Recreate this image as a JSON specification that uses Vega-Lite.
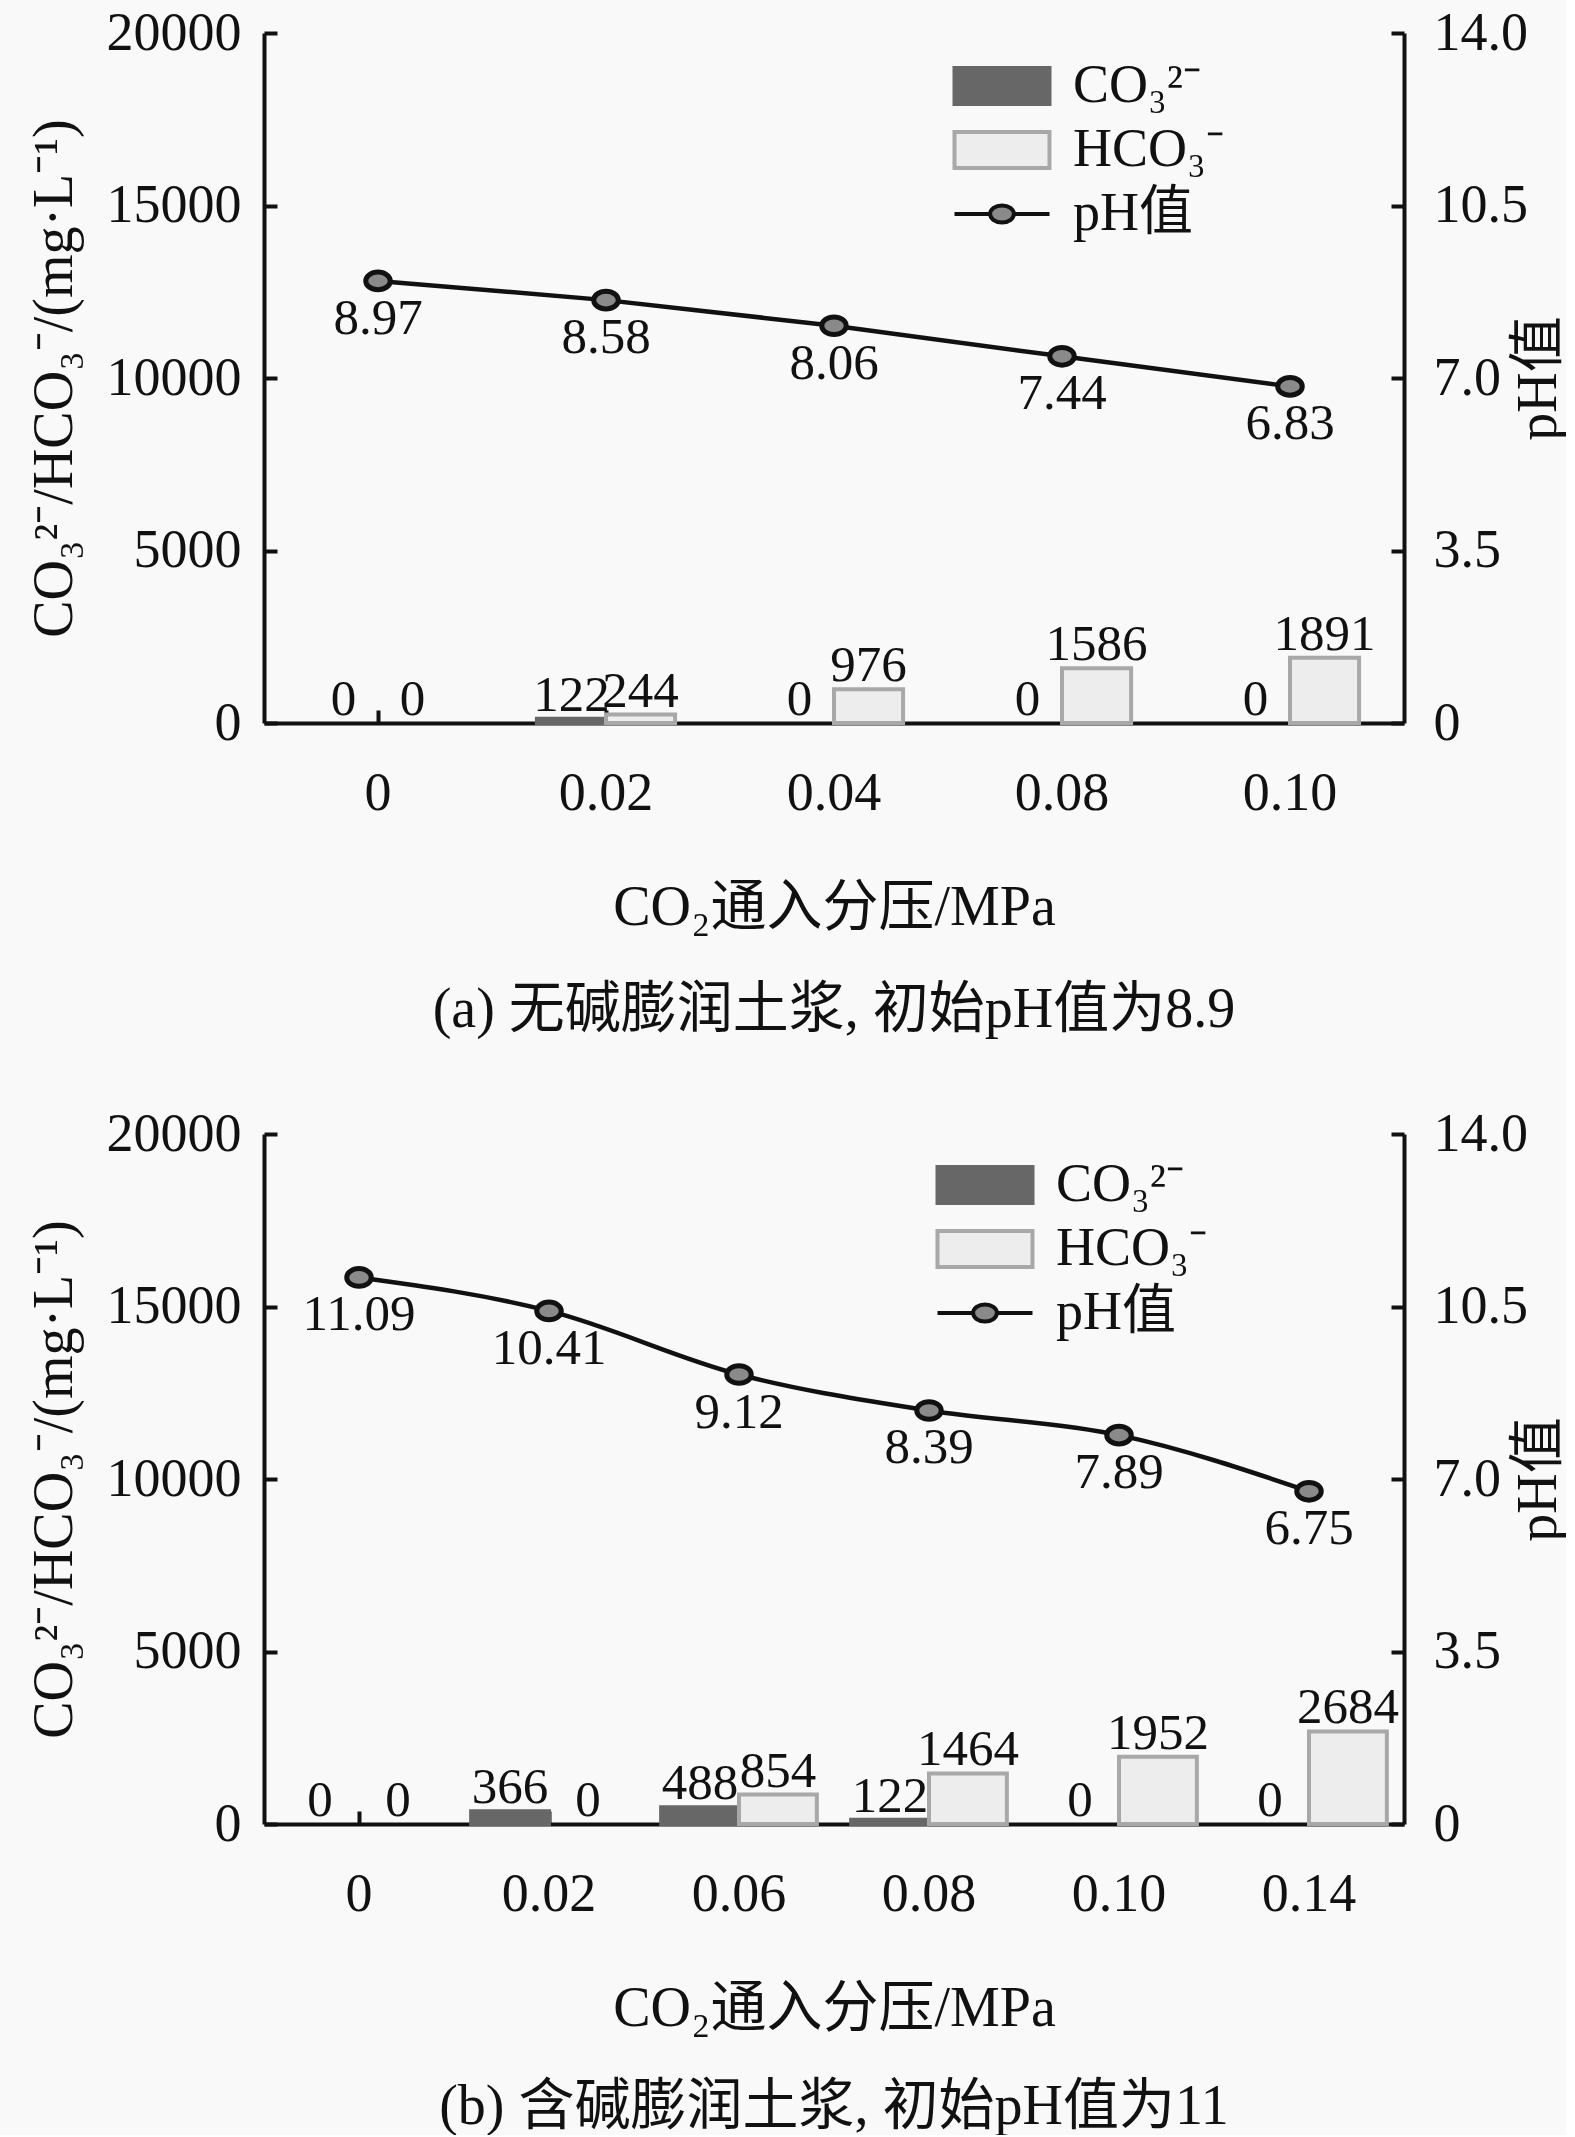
{
  "$schema": "https://vega.github.io/schema/vega-lite/v6.json",
  "background": "#f9f9f9",
  "padding": {"left": 25, "top": 6, "right": 0, "bottom": 0},
  "datasets": {
    "a": [
      {"p": "0", "series": "CO₃²⁻", "value": 0},
      {"p": "0", "series": "HCO₃⁻", "value": 0},
      {"p": "0", "series": "pH值", "value": 8.97},
      {"p": "0.02", "series": "CO₃²⁻", "value": 122},
      {"p": "0.02", "series": "HCO₃⁻", "value": 244},
      {"p": "0.02", "series": "pH值", "value": 8.58},
      {"p": "0.04", "series": "CO₃²⁻", "value": 0},
      {"p": "0.04", "series": "HCO₃⁻", "value": 976},
      {"p": "0.04", "series": "pH值", "value": 8.06},
      {"p": "0.08", "series": "CO₃²⁻", "value": 0},
      {"p": "0.08", "series": "HCO₃⁻", "value": 1586},
      {"p": "0.08", "series": "pH值", "value": 7.44},
      {"p": "0.10", "series": "CO₃²⁻", "value": 0},
      {"p": "0.10", "series": "HCO₃⁻", "value": 1891},
      {"p": "0.10", "series": "pH值", "value": 6.83}
    ],
    "b": [
      {"p": "0", "series": "CO₃²⁻", "value": 0},
      {"p": "0", "series": "HCO₃⁻", "value": 0},
      {"p": "0", "series": "pH值", "value": 11.09},
      {"p": "0.02", "series": "CO₃²⁻", "value": 366},
      {"p": "0.02", "series": "HCO₃⁻", "value": 0},
      {"p": "0.02", "series": "pH值", "value": 10.41},
      {"p": "0.06", "series": "CO₃²⁻", "value": 488},
      {"p": "0.06", "series": "HCO₃⁻", "value": 854},
      {"p": "0.06", "series": "pH值", "value": 9.12},
      {"p": "0.08", "series": "CO₃²⁻", "value": 122},
      {"p": "0.08", "series": "HCO₃⁻", "value": 1464},
      {"p": "0.08", "series": "pH值", "value": 8.39},
      {"p": "0.10", "series": "CO₃²⁻", "value": 0},
      {"p": "0.10", "series": "HCO₃⁻", "value": 1952},
      {"p": "0.10", "series": "pH值", "value": 7.89},
      {"p": "0.14", "series": "CO₃²⁻", "value": 0},
      {"p": "0.14", "series": "HCO₃⁻", "value": 2684},
      {"p": "0.14", "series": "pH值", "value": 6.75}
    ]
  },
  "spacing": 69,
  "vconcat": [
    {
      "data": {"name": "a"},
      "width": 1140,
      "height": 690,
      "title": {"text": "(a) 无碱膨润土浆, 初始pH值为8.9", "orient": "bottom", "offset": 48},
      "encoding": {
        "x": {
          "field": "p", "type": "nominal",
          "scale": {"domain": ["0", "0.02", "0.04", "0.08", "0.10"], "paddingInner": 0, "paddingOuter": 0},
          "axis": {"labelAngle": 0, "title": "CO₂通入分压/MPa", "titleY": 184, "titleBaseline": "middle"}
        }
      },
      "layer": [
        {
          "transform": [{"filter": "datum.series !== 'pH值'"}],
          "encoding": {
            "y": {
              "field": "value", "type": "quantitative",
              "scale": {"domain": [0, 20000]},
              "axis": {
                "orient": "left", "values": [0, 5000, 10000, 15000, 20000], "format": "d",
                "title": "CO₃²⁻/HCO₃⁻/(mg·L⁻¹)", "titleX": -210, "titleY": 345, "titleBaseline": "middle"
              }
            },
            "xOffset": {
              "field": "series", "type": "nominal",
              "scale": {"domain": ["CO₃²⁻", "HCO₃⁻"], "paddingInner": 0, "paddingOuter": 0.65}
            }
          },
          "layer": [
            {
              "transform": [{"filter": "datum.value > 0"}],
              "mark": {"type": "bar", "strokeWidth": 4},
              "encoding": {
                "fill": {
                  "field": "series", "type": "nominal",
                  "scale": {"domain": ["CO₃²⁻", "HCO₃⁻", "pH值"], "range": ["#676767", "#ededed", "#8a8a8a"]},
                  "legend": {
                    "title": null, "orient": "none", "legendX": 711, "legendY": 26,
                    "symbolSize": 2256, "symbolStrokeWidth": 4, "labelOffset": 44, "rowPadding": 10,
                    "encode": {
                      "symbols": {
                        "update": {
                          "shape": {"signal": "datum.value === 'pH值' ? 'M-2,0H-0.5M0.5,0H2M-0.5,0A0.5,0.36,0,1,1,0.5,0A0.5,0.36,0,1,1,-0.5,0Z' : 'M-2,-0.76H2V0.76H-2Z'"}
                        }
                      }
                    }
                  }
                },
                "stroke": {
                  "field": "series", "type": "nominal",
                  "scale": {"domain": ["CO₃²⁻", "HCO₃⁻", "pH值"], "range": ["#676767", "#a8a8a8", "#111111"]},
                  "legend": null
                }
              }
            },
            {
              "mark": {"type": "text", "baseline": "alphabetic", "dy": -8},
              "encoding": {"text": {"field": "value", "type": "quantitative", "format": "d"}}
            }
          ]
        },
        {
          "transform": [{"filter": "datum.series === 'pH值'"}],
          "encoding": {
            "y": {
              "field": "value", "type": "quantitative",
              "scale": {"domain": [0, 14]},
              "axis": {
                "orient": "right", "values": [0, 3.5, 7, 10.5, 14],
                "labelExpr": "datum.value === 0 ? '0' : format(datum.value, '.1f')",
                "title": "pH值", "titleAngle": 270, "titleX": 134, "titleY": 345, "titleBaseline": "middle"
              }
            }
          },
          "layer": [
            {
              "mark": {"type": "line", "strokeWidth": 4.5, "interpolate": "linear"},
              "encoding": {"stroke": {"field": "series", "type": "nominal", "legend": null}}
            },
            {
              "mark": {"type": "point", "shape": "M-1,0A1,0.72,0,1,1,1,0A1,0.72,0,1,1,-1,0Z", "size": 600, "strokeWidth": 5, "fill": "#8a8a8a", "stroke": "#111111", "opacity": 1}
            },
            {
              "mark": {"type": "text", "baseline": "middle", "dy": 38},
              "encoding": {"text": {"field": "value", "type": "quantitative", "format": ".2f"}}
            }
          ]
        }
      ],
      "resolve": {"scale": {"y": "independent"}}
    },
    {
      "data": {"name": "b"},
      "width": 1140,
      "height": 690,
      "title": {"text": "(b) 含碱膨润土浆, 初始pH值为11", "orient": "bottom", "offset": 44},
      "encoding": {
        "x": {
          "field": "p", "type": "nominal",
          "scale": {"domain": ["0", "0.02", "0.06", "0.08", "0.10", "0.14"], "paddingInner": 0, "paddingOuter": 0},
          "axis": {"labelAngle": 0, "title": "CO₂通入分压/MPa", "titleY": 184, "titleBaseline": "middle"}
        }
      },
      "layer": [
        {
          "transform": [{"filter": "datum.series !== 'pH值'"}],
          "encoding": {
            "y": {
              "field": "value", "type": "quantitative",
              "scale": {"domain": [0, 20000]},
              "axis": {
                "orient": "left", "values": [0, 5000, 10000, 15000, 20000], "format": "d",
                "title": "CO₃²⁻/HCO₃⁻/(mg·L⁻¹)", "titleX": -210, "titleY": 345, "titleBaseline": "middle"
              }
            },
            "xOffset": {
              "field": "series", "type": "nominal",
              "scale": {"domain": ["CO₃²⁻", "HCO₃⁻"], "paddingInner": 0, "paddingOuter": 0.22}
            }
          },
          "layer": [
            {
              "transform": [{"filter": "datum.value > 0"}],
              "mark": {"type": "bar", "strokeWidth": 4},
              "encoding": {
                "fill": {
                  "field": "series", "type": "nominal",
                  "scale": {"domain": ["CO₃²⁻", "HCO₃⁻", "pH值"], "range": ["#676767", "#ededed", "#8a8a8a"]},
                  "legend": {
                    "title": null, "orient": "none", "legendX": 694, "legendY": 24,
                    "symbolSize": 2256, "symbolStrokeWidth": 4, "labelOffset": 44, "rowPadding": 10,
                    "encode": {
                      "symbols": {
                        "update": {
                          "shape": {"signal": "datum.value === 'pH值' ? 'M-2,0H-0.5M0.5,0H2M-0.5,0A0.5,0.36,0,1,1,0.5,0A0.5,0.36,0,1,1,-0.5,0Z' : 'M-2,-0.76H2V0.76H-2Z'"}
                        }
                      }
                    }
                  }
                },
                "stroke": {
                  "field": "series", "type": "nominal",
                  "scale": {"domain": ["CO₃²⁻", "HCO₃⁻", "pH值"], "range": ["#676767", "#a8a8a8", "#111111"]},
                  "legend": null
                }
              }
            },
            {
              "mark": {"type": "text", "baseline": "alphabetic", "dy": -8},
              "encoding": {"text": {"field": "value", "type": "quantitative", "format": "d"}}
            }
          ]
        },
        {
          "transform": [{"filter": "datum.series === 'pH值'"}],
          "encoding": {
            "y": {
              "field": "value", "type": "quantitative",
              "scale": {"domain": [0, 14]},
              "axis": {
                "orient": "right", "values": [0, 3.5, 7, 10.5, 14],
                "labelExpr": "datum.value === 0 ? '0' : format(datum.value, '.1f')",
                "title": "pH值", "titleAngle": 270, "titleX": 134, "titleY": 345, "titleBaseline": "middle"
              }
            }
          },
          "layer": [
            {
              "mark": {"type": "line", "strokeWidth": 4.5, "interpolate": "monotone"},
              "encoding": {"stroke": {"field": "series", "type": "nominal", "legend": null}}
            },
            {
              "mark": {"type": "point", "shape": "M-1,0A1,0.72,0,1,1,1,0A1,0.72,0,1,1,-1,0Z", "size": 600, "strokeWidth": 5, "fill": "#8a8a8a", "stroke": "#111111", "opacity": 1}
            },
            {
              "mark": {"type": "text", "baseline": "middle", "dy": 38},
              "encoding": {"text": {"field": "value", "type": "quantitative", "format": ".2f"}}
            }
          ]
        }
      ],
      "resolve": {"scale": {"y": "independent"}}
    }
  ],
  "resolve": {
    "scale": {"x": "independent", "xOffset": "independent", "fill": "independent", "stroke": "independent"},
    "legend": {"fill": "independent", "stroke": "independent"}
  },
  "config": {
    "font": "'Liberation Serif', 'Noto Sans CJK SC', serif",
    "view": {"stroke": null},
    "axis": {
      "grid": false,
      "labelFont": "'Liberation Serif', 'Noto Sans CJK SC', serif",
      "labelFontSize": 54,
      "labelColor": "#111111",
      "titleFont": "'Liberation Serif', 'Noto Sans CJK SC', serif",
      "titleFontSize": 56,
      "titleFontWeight": "normal",
      "titleColor": "#111111",
      "domainColor": "#111111",
      "domainWidth": 4,
      "tickColor": "#111111",
      "tickWidth": 4,
      "tickSize": -13,
      "labelPadding": 36
    },
    "axisX": {"labelPadding": 56},
    "axisRight": {"labelPadding": 42},
    "legend": {
      "labelFont": "'Liberation Serif', 'Noto Sans CJK SC', serif",
      "labelFontSize": 54,
      "labelColor": "#111111"
    },
    "text": {"font": "'Liberation Serif', 'Noto Sans CJK SC', serif", "fontSize": 51, "color": "#111111"},
    "title": {"font": "'Liberation Serif', 'Noto Sans CJK SC', serif", "fontSize": 56, "fontWeight": "normal", "color": "#111111"}
  }
}
